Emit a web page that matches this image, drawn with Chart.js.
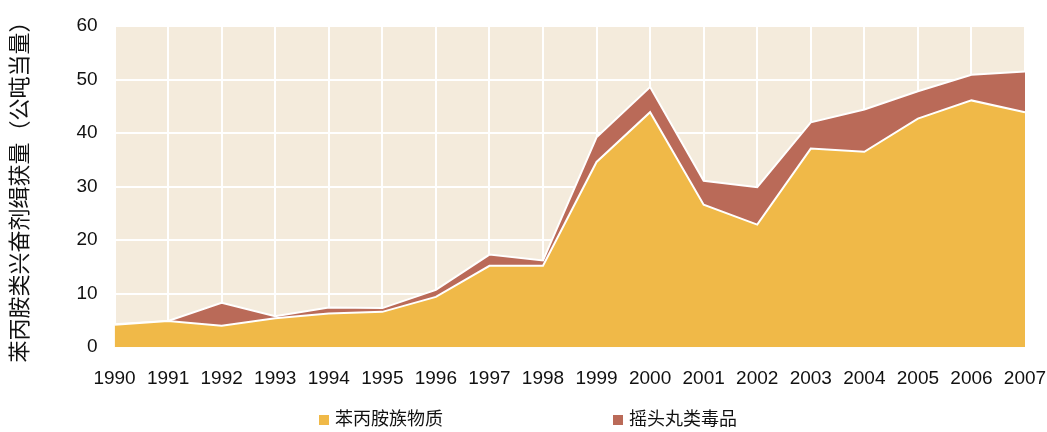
<!DOCTYPE html>
<html>
<head>
<meta charset="utf-8">
<script src="https://cdn.jsdelivr.net/npm/chart.js@4"></script>
<style>
  html, body { margin: 0; padding: 0; background: #fff; }
  #wrap { position: relative; width: 1047px; height: 432px; }
  #legend { position: absolute; top: 406px; left: 0; width: 1047px; height: 26px;
            font: 18px 'Liberation Sans', 'Noto Sans CJK SC', sans-serif; color: #111; }
  .item { position: absolute; top: 0; line-height: 26px; white-space: nowrap; }
  .box { display: inline-block; width: 10px; height: 10px; margin-right: 6px; vertical-align: 0px; }
</style>
</head>
<body>
<div id="wrap">
  <canvas id="chart" width="1047" height="432"></canvas>
  <div id="legend"></div>
</div>
<script>
// 年份
const years = ["1990", "1991", "1992", "1993", "1994", "1995", "1996", "1997", "1998",
    "1999", "2000", "2001", "2002", "2003", "2004", "2005", "2006", "2007"];

// 苯丙胺族物质 (公吨当量)
const amphetamines = [4.2, 4.9, 4.0, 5.4, 6.3, 6.6, 9.4, 15.2, 15.2,
    34.6, 43.9, 26.6, 22.9, 37.1, 36.5, 42.7, 46.1, 43.9];

// 摇头丸类毒品 (叠加在上面)
const ecstasy = [0.1, 0.0, 4.3, 0.4, 1.1, 0.7, 1.3, 2.1, 1.0,
    4.6, 4.7, 4.5, 7.0, 4.9, 7.9, 5.1, 4.8, 7.6];

const seriesNames = ["苯丙胺族物质", "摇头丸类毒品"];
const seriesColors = ["#F0B948", "#BA6A58"];
const legendX = [319, 613];

const yAxisTitle = "苯丙胺类兴奋剂缉获量（公吨当量）";

const FONT = "'Liberation Sans', Arial, 'Noto Sans CJK SC', sans-serif";

// beige plot background
const plotBg = {
    id: "plotBg",
    beforeDraw(chart) {
        const { ctx, chartArea: a } = chart;
        ctx.save();
        ctx.fillStyle = "#F4EBDC";
        ctx.fillRect(a.left, a.top, a.right - a.left, a.bottom - a.top);
        ctx.restore();
    }
};

const ctx = document.getElementById("chart").getContext("2d");
new Chart(ctx, {
    type: "line",
    data: {
        labels: years,
        datasets: [
            {
                label: seriesNames[0],
                data: amphetamines,
                backgroundColor: seriesColors[0],
                borderColor: "#ffffff",
                borderWidth: 2,
                fill: "origin",
                pointRadius: 0,
                tension: 0,
            },
            {
                label: seriesNames[1],
                data: ecstasy,
                backgroundColor: seriesColors[1],
                borderColor: "#ffffff",
                borderWidth: 2,
                fill: "-1",
                pointRadius: 0,
                tension: 0,
            },
        ],
    },
    options: {
        responsive: false,
        animation: false,
        layout: { padding: { left: 0, right: 0, top: 26, bottom: 22 } },
        plugins: {
            legend: { display: false },
            tooltip: { enabled: false },
        },
        scales: {
            x: {
                offset: false,
                border: { display: false },
                grid: { color: "#ffffff", lineWidth: 2, drawTicks: false },
                ticks: {
                    color: "#111",
                    font: { family: FONT, size: 19 },
                    padding: 20,
                    maxRotation: 0,
                    autoSkip: false,
                },
                // keep only half of the last label as right margin
                afterFit(scale) {
                    scale.paddingRight = 22;
                },
            },
            y: {
                stacked: true,
                min: 0,
                max: 60,
                border: { display: false },
                grid: { color: "#ffffff", lineWidth: 2, drawTicks: false },
                ticks: {
                    stepSize: 10,
                    color: "#111",
                    font: { family: FONT, size: 19 },
                    padding: 17,
                },
                title: {
                    display: true,
                    text: yAxisTitle,
                    color: "#111",
                    font: { family: FONT, size: 22 },
                    padding: { top: 8, bottom: 25 },
                },
                afterFit(scale) {
                    scale.paddingTop = 10;
                },
            },
        },
    },
    plugins: [plotBg],
});

// legend built from the series
const legend = document.getElementById("legend");
seriesNames.forEach((name, i) => {
    const item = document.createElement("div");
    item.className = "item";
    item.style.left = legendX[i] + "px";
    const box = document.createElement("span");
    box.className = "box";
    box.style.background = seriesColors[i];
    item.appendChild(box);
    item.appendChild(document.createTextNode(name));
    legend.appendChild(item);
});
</script>
</body>
</html>
